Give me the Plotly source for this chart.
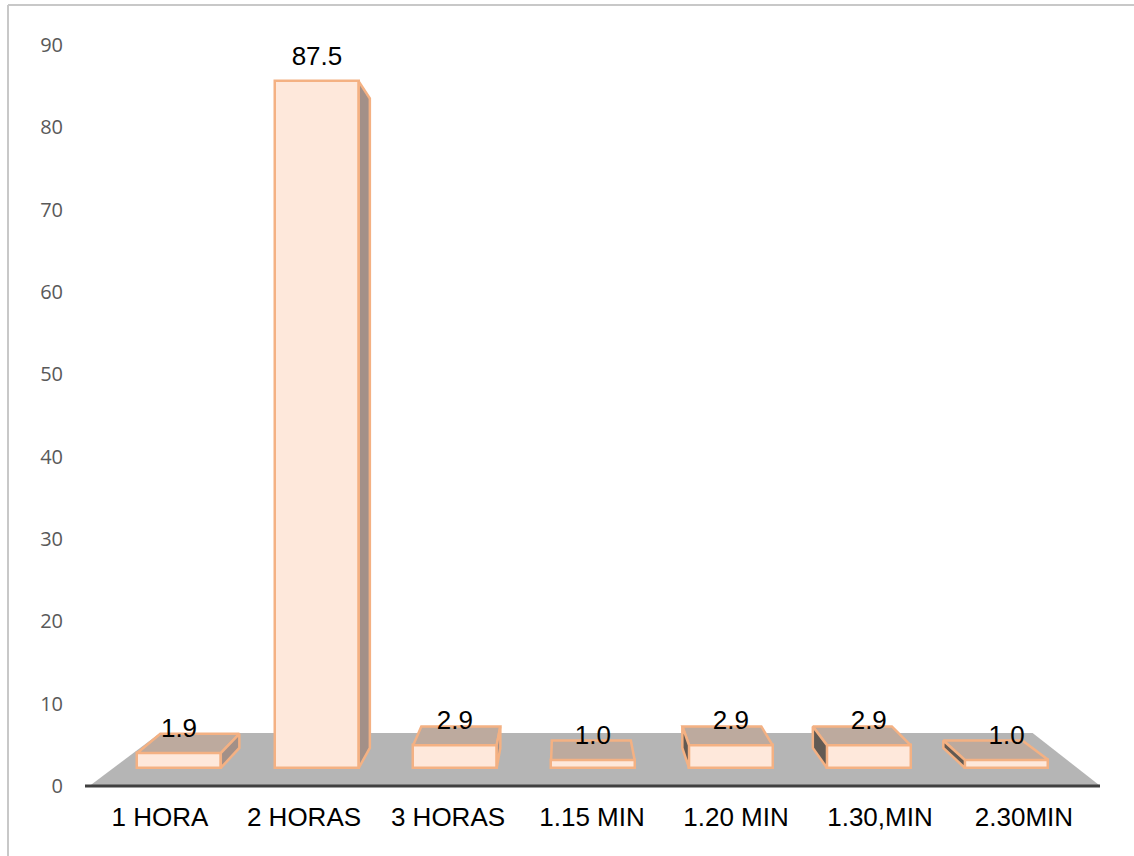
import plotly.graph_objects as go

# --- data ---
categories = ["1 HORA", "2 HORAS", "3 HORAS", "1.15 MIN", "1.20 MIN", "1.30,MIN", "2.30MIN"]
values = [1.9, 87.5, 2.9, 1.0, 2.9, 2.9, 1.0]
value_labels = ["1.9", "87.5", "2.9", "1.0", "2.9", "2.9", "1.0"]
y_ticks = [0, 10, 20, 30, 40, 50, 60, 70, 80, 90]

# --- false-perspective settings (axis units) ---
FRONT_SCALE = 0.953      # front plane height per value unit
FRONT_BASE = 2.19        # front plane floor level
BACK_BASE = 4.62         # back plane floor level
PERSP = 0.946            # back plane shrink
VANISH_X = 2.81          # x position the back plane shrinks toward
BAR_OFFSET = 0.132       # first bar centre
BAR_STEP = 0.958         # bar spacing
BAR_WIDTH = 0.58
LABEL_GAP = 2.75
X_RANGE = [-0.521, 6.528]
Y_RANGE = [-0.243, 90]
FLOOR_FRONT = (-0.49, 6.53)
FLOOR_BACK = (0.0, 6.06)
FLOOR_TOP = 6.44

BORDER = "#c8c8c8"
FACE = "#fee8db"
EDGE = "#f4b183"
TOP = "#bdaa9e"
RIGHT = "#a39088"
LEFT = "#625a53"

centers = [BAR_OFFSET + BAR_STEP * i for i in range(len(values))]


def back_x(x):
    return VANISH_X + (x - VANISH_X) * PERSP


fig = go.Figure()

fig.add_trace(go.Bar(
    x=centers, y=[v * FRONT_SCALE for v in values], base=FRONT_BASE, width=BAR_WIDTH,
    marker=dict(color=FACE, line=dict(color=EDGE, width=2.5)), hoverinfo="skip",
))


def face(xs, ys, color):
    fig.add_trace(go.Scatter(
        x=xs, y=ys, mode="lines", fill="toself", fillcolor=color,
        line=dict(color=EDGE, width=2.5), hoverinfo="skip",
    ))


for c, v in zip(centers, values):
    xl, xr = c - BAR_WIDTH / 2, c + BAR_WIDTH / 2
    bl, br = back_x(xl), back_x(xr)
    ftop = FRONT_BASE + v * FRONT_SCALE
    btop = BACK_BASE + v * FRONT_SCALE * PERSP
    # top face, visible only when it lies above the front edge
    if btop > ftop:
        face([xl, xr, br, bl, xl], [ftop, ftop, btop, btop, ftop], TOP)
    # side face on whichever side is exposed
    if br > xr:
        face([xr, br, br, xr, xr], [ftop, btop, BACK_BASE, FRONT_BASE, ftop], RIGHT)
    if bl < xl:
        face([xl, bl, bl, xl, xl], [ftop, btop, BACK_BASE, FRONT_BASE, ftop], LEFT)

fig.add_trace(go.Scatter(
    x=centers, y=[FRONT_BASE + v * FRONT_SCALE + LABEL_GAP for v in values],
    mode="text", text=value_labels, textposition="middle center",
    textfont=dict(family="Liberation Sans", size=26, color="#000000"), hoverinfo="skip",
))

fig.update_layout(
    width=1134, height=856, showlegend=False, bargap=0,
    paper_bgcolor="white", plot_bgcolor="white",
    margin=dict(l=85, r=34, t=45, b=68, pad=0),
    xaxis=dict(
        range=X_RANGE, tickmode="array", tickvals=list(range(len(categories))),
        ticktext=categories, showgrid=False, zeroline=False, showline=False, ticks="",
        ticklabelstandoff=11,
        tickfont=dict(family="Liberation Sans", size=26, color="#000000"),
    ),
    yaxis=dict(
        range=Y_RANGE, tickmode="array", tickvals=y_ticks, showgrid=False, zeroline=False,
        showline=False, ticks="", ticklabelstandoff=21,
        tickfont=dict(family="Open Sans", size=20, color="#595959"),
    ),
    shapes=[
        dict(type="line", layer="below", xref="paper", yref="paper",
             x0=-77 / 1015, x1=-77 / 1015, y0=-68 / 743, y1=783 / 743,
             line=dict(color=BORDER, width=2)),
        dict(type="line", layer="below", xref="paper", yref="paper",
             x0=-77 / 1015, x1=1049 / 1015, y0=783 / 743, y1=783 / 743,
             line=dict(color=BORDER, width=2)),
        dict(type="path", layer="below", xref="x", yref="y",
             path=f"M {FLOOR_FRONT[0]} 0 L {FLOOR_FRONT[1]} 0 L {FLOOR_BACK[1]} {FLOOR_TOP} L {FLOOR_BACK[0]} {FLOOR_TOP} Z",
             fillcolor="#b5b5b5", line=dict(width=0)),
        dict(type="line", layer="above", xref="x", yref="y",
             x0=X_RANGE[0], x1=X_RANGE[1], y0=0, y1=0,
             line=dict(color="#404040", width=3)),
    ],
)

fig.write_html("out.html", config={"displayModeBar": False},
               post_script="document.body.style.margin='0';")
